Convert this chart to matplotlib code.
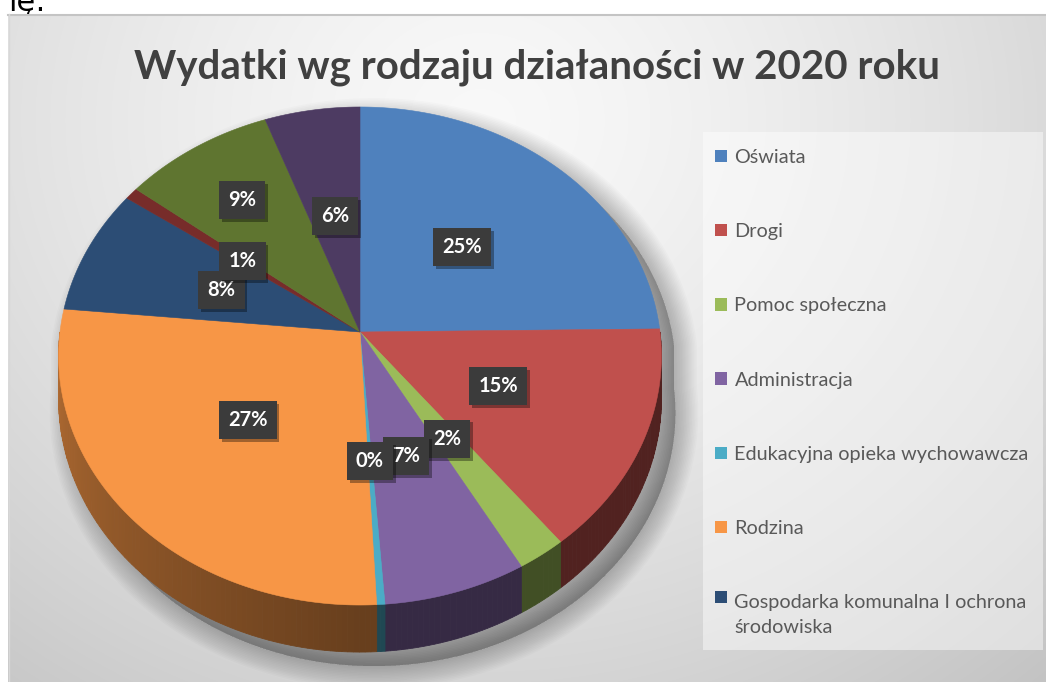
import numpy as np
import matplotlib
matplotlib.use("Agg")
import matplotlib.pyplot as plt
from matplotlib.patches import Polygon, Rectangle
from matplotlib.legend_handler import HandlerPatch
import matplotlib.patheffects as pe

# ---------------- data ----------------
title = "Wydatki wg rodzaju działaności w 2020 roku"
categories = [
    "Oświata",
    "Drogi",
    "Pomoc społeczna",
    "Administracja",
    "Edukacyjna opieka wychowawcza",
    "Rodzina",
    "Gospodarka komunalna I ochrona\nśrodowiska",
    "Kategoria 8",
    "Kategoria 9",
    "Kategoria 10",
]
values = [24.8, 14.6, 2.4, 7.0, 0.4, 27.3, 8.2, 0.8, 8.9, 5.6]
legend_count = 7  # only first 7 entries visible in the legend

# ---------------- style ----------------
colors = ["#4F81BD", "#C0504D", "#9BBB59", "#8064A2", "#4BACC6",
          "#F79646", "#2C4D75", "#772C2A", "#5F7530", "#4D3B62"]
label_r = [0.5, 0.5, 0.5, 0.5, 0.5, 0.5, 0.5, 0.5, 0.7, 0.5]

W, H = 1046, 682
fig = plt.figure(figsize=(W / 100, H / 100), dpi=100)
ax = fig.add_axes([0, 0, 1, 1])

# stray text from the surrounding document (cut off)
ax.text(8, 11, "ię:", fontsize=22, color="black", va="baseline", ha="left",
        family="DejaVu Sans", zorder=0.5)

# chart area background (radial grey gradient)
yy, xx = np.mgrid[14:H, 8:W]
d = np.sqrt(((xx - 480) / 700.0) ** 2 + ((yy - 120) / 620.0) ** 2)
val = 0.975 - 0.16 * np.clip(d, 0, 1.3) ** 1.4
img = np.dstack([val, val, val])
ax.imshow(img, extent=(8, W, H, 14), zorder=1, interpolation="bilinear", aspect="auto")
ax.plot([8, W], [14.5, 14.5], color="#c4c4c4", lw=1.5, zorder=1.1)
ax.plot([8.5, 8.5], [14, H], color="#d8d8d8", lw=1, zorder=1.1)

# ---------------- 3-D pie geometry ----------------
cx, cy = 360.0, 332.0
Rx, Ry = 300.0, 246.7
persp = 0.0964
depth = 42.5


def proj(theta, r=1.0, z=0.0):
    u = r * np.sin(theta)
    w = r * np.cos(theta)
    s = 1.0 / (1.0 + persp * w)
    return cx + Rx * u * s, cy - Ry * w * s + z * s


total = float(sum(values))
edges = 2 * np.pi * np.concatenate([[0.0], np.cumsum(values)]) / total

# soft drop shadow of the whole disc
t_top = np.linspace(-np.pi / 2, np.pi / 2, 200)
t_bot = np.linspace(np.pi / 2, 3 * np.pi / 2, 200)
sx = np.concatenate([proj(t_top)[0], proj(t_bot, z=depth)[0]])
sy = np.concatenate([proj(t_top)[1], proj(t_bot, z=depth)[1]])
for k in range(1, 16):
    ax.add_patch(Polygon(np.column_stack([sx + 14, sy + 14]), closed=True,
                         facecolor="black", edgecolor="black", lw=2.2 * k,
                         alpha=0.016, joinstyle="round", zorder=2))


def shade(theta):
    deg = np.degrees(theta) % 360
    return 0.42 + 0.30 * np.clip((deg - 180.0) / 90.0, 0, 1)


# side walls
for i in range(len(values)):
    a0 = max(edges[i], np.pi / 2)
    a1 = min(edges[i + 1], 3 * np.pi / 2)
    if a1 <= a0:
        continue
    n = max(2, int(np.degrees(a1 - a0)) + 1)
    ts = np.linspace(a0, a1, n + 1)
    base = np.array(matplotlib.colors.to_rgb(colors[i]))
    for j in range(n):
        tt = np.linspace(ts[j], ts[j + 1], 4)
        xt, yt = proj(tt)
        xb, yb = proj(tt[::-1], z=depth)
        c = np.clip(base * shade(0.5 * (ts[j] + ts[j + 1])), 0, 1)
        ax.add_patch(Polygon(np.column_stack([np.concatenate([xt, xb]),
                                              np.concatenate([yt, yb])]),
                             closed=True, facecolor=c, edgecolor=c, lw=0.6, zorder=3))

# top faces
wedges = []
for i in range(len(values)):
    tt = np.linspace(edges[i], edges[i + 1], max(3, int(np.degrees(edges[i + 1] - edges[i]) * 2)))
    xt, yt = proj(tt)
    pts = np.column_stack([np.concatenate([[cx], xt]), np.concatenate([[cy], yt])])
    p = Polygon(pts, closed=True, facecolor=colors[i], edgecolor=colors[i], lw=0.4, zorder=4)
    ax.add_patch(p)
    wedges.append(p)

# data labels
for i, v in enumerate(values):
    mid = 0.5 * (edges[i] + edges[i + 1])
    lx, ly = proj(mid, r=label_r[i])
    t = ax.text(lx, ly, f"{round(v)}%", ha="center", va="center", fontsize=14.5,
                fontweight="bold", family="Lato", color="white", zorder=10 + i,
                bbox=dict(boxstyle="square,pad=0.45", facecolor="#3b3b3b",
                          edgecolor="none"))
    t.get_bbox_patch().set_path_effects([
        pe.SimplePatchShadow(offset=(2, -2), shadow_rgbFace="black", alpha=0.35),
        pe.Normal()])

# ---------------- legend ----------------
ax.add_patch(Rectangle((703, 132), 340, 518, facecolor="white", alpha=0.45,
                       edgecolor="none", zorder=2))

LEG_FS = 14.3
LINE_SP = 1.55


def first_line_patch(legend, orig_handle, xdescent, ydescent, width, height, fontsize):
    # marker aligned with the first line of a two-line label
    shift = 0.5 * LINE_SP * fontsize * 1.17
    return Rectangle((-xdescent, -ydescent + shift), width, height)


handles = [Rectangle((0, 0), 1, 1, facecolor=colors[i], edgecolor="none")
           for i in range(legend_count)]
hmap = {h: HandlerPatch(patch_func=first_line_patch)
        for h, lab in zip(handles, categories[:legend_count]) if "\n" in lab}
leg = ax.legend(
    handles, categories[:legend_count], handler_map=hmap,
    loc="upper left", bbox_to_anchor=(715, 149), bbox_transform=ax.transData,
    frameon=False, prop={"family": "Lato", "size": LEG_FS},
    labelcolor="#595959", handlelength=0.58, handleheight=0.58,
    handletextpad=0.4, labelspacing=2.88, borderpad=0.0, borderaxespad=0.0)
for txt in leg.get_texts():
    txt.set_linespacing(LINE_SP)
leg.set_zorder(20)

# ---------------- title ----------------
ax.text(537, 67, title, ha="center", va="center", fontsize=29, fontweight="bold",
        family="Lato", color="#404040", zorder=20)

ax.set_xlim(0, W)
ax.set_ylim(H, 0)
ax.axis("off")
fig.savefig("out.png", dpi=100, facecolor="white")
